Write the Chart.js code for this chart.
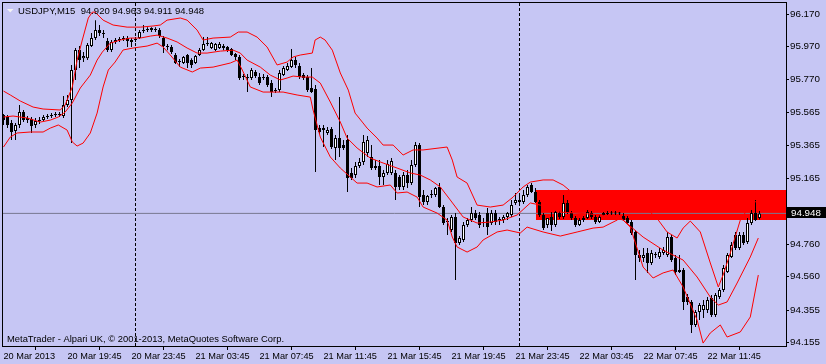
<!DOCTYPE html>
<html>
<head>
<meta charset="utf-8">
<title>USDJPY,M15</title>
<script src="https://cdn.jsdelivr.net/npm/chart.js@4"></script>
<style>
  html, body { margin: 0; padding: 0; background: #c6c6f4; }
  canvas { display: block; }
</style>
</head>
<body>
<canvas id="chart" width="826" height="364"></canvas>
<script>
// USDJPY M15, bars 0..189 (20 Mar 15:45 .. 22 Mar 13:00)
const open = [
  95.551, 95.539, 95.502, 95.453, 95.490, 95.569, 95.533, 95.527, 95.490, 95.514,
  95.520, 95.539, 95.545, 95.551, 95.557, 95.545, 95.612, 95.643, 95.827, 95.950,
  95.900, 95.900, 95.974, 96.023, 96.072, 96.054, 96.005, 95.950, 95.999, 96.011,
  96.017, 96.023, 96.011, 96.011, 96.023, 96.066, 96.072, 96.072, 96.078, 96.072,
  96.023, 95.974, 95.968, 95.919, 95.876, 95.870, 95.919, 95.888, 95.870, 95.919,
  95.950, 95.986, 95.962, 95.950, 95.962, 95.974, 95.968, 95.956, 95.925, 95.907,
  95.784, 95.784, 95.778, 95.815, 95.784, 95.784, 95.784, 95.747, 95.704, 95.704,
  95.796, 95.827, 95.845, 95.888, 95.851, 95.796, 95.784, 95.717, 95.710, 95.471,
  95.471, 95.441, 95.465, 95.349, 95.410, 95.367, 95.398, 95.195, 95.183, 95.238,
  95.263, 95.318, 95.294, 95.238, 95.238, 95.171, 95.196, 95.196, 95.196, 95.171,
  95.110, 95.183, 95.134, 95.245, 95.367, 95.061, 95.018, 95.061, 95.061, 95.110,
  94.987, 94.895, 94.846, 94.926, 94.766, 94.785, 94.877, 94.907, 94.950, 94.938,
  94.895, 94.950, 94.889, 94.950, 94.907, 94.907, 94.926, 94.938, 95.012, 95.030,
  95.018, 95.061, 95.122, 95.079, 95.018, 94.938, 94.877, 94.926, 94.877, 94.950,
  94.926, 95.012, 94.950, 94.920, 94.877, 94.907, 94.920, 94.950, 94.926, 94.895,
  94.938, 94.944, 94.947, 94.950, 94.947, 94.932, 94.920, 94.895, 94.834, 94.693,
  94.674, 94.705, 94.644, 94.693, 94.681, 94.705, 94.693, 94.803, 94.674, 94.601,
  94.601, 94.435, 94.405, 94.264, 94.343, 94.356, 94.356, 94.429, 94.325, 94.435,
  94.478, 94.589, 94.681, 94.815, 94.736, 94.815, 94.773, 94.889, 94.950, 94.920
];
const high = [
  95.557, 95.551, 95.520, 95.502, 95.612, 95.582, 95.545, 95.539, 95.533, 95.539,
  95.551, 95.557, 95.563, 95.569, 95.569, 95.668, 95.674, 95.858, 95.962, 95.974,
  95.937, 95.992, 96.054, 96.133, 96.103, 96.072, 96.023, 96.011, 96.023, 96.029,
  96.035, 96.035, 96.023, 96.029, 96.072, 96.103, 96.090, 96.090, 96.090, 96.084,
  96.035, 95.986, 95.980, 95.931, 95.894, 95.913, 95.925, 95.900, 95.919, 95.962,
  96.029, 96.029, 95.999, 95.992, 95.999, 95.986, 95.974, 95.962, 95.931, 95.919,
  95.802, 95.802, 95.839, 95.827, 95.809, 95.802, 95.796, 95.766, 95.717, 95.827,
  95.851, 95.870, 95.956, 95.907, 95.870, 95.809, 95.796, 95.839, 95.735, 95.490,
  95.490, 95.478, 95.478, 95.428, 95.661, 95.398, 95.428, 95.226, 95.263, 95.287,
  95.428, 95.422, 95.367, 95.275, 95.275, 95.214, 95.275, 95.287, 95.214, 95.183,
  95.202, 95.214, 95.275, 95.386, 95.379, 95.091, 95.061, 95.091, 95.110, 95.134,
  94.999, 94.920, 94.938, 94.950, 94.809, 94.895, 94.920, 94.987, 94.969, 94.956,
  94.920, 94.981, 94.969, 94.969, 94.926, 94.938, 94.956, 95.030, 95.073, 95.061,
  95.091, 95.122, 95.134, 95.104, 95.030, 94.950, 94.920, 94.956, 94.969, 94.962,
  95.061, 95.030, 94.962, 94.932, 94.920, 94.932, 94.969, 94.962, 94.938, 94.938,
  94.956, 94.962, 94.962, 94.962, 94.956, 94.950, 94.932, 94.907, 94.846, 94.723,
  94.736, 94.736, 94.723, 94.711, 94.736, 94.742, 94.834, 94.815, 94.693, 94.693,
  94.613, 94.454, 94.417, 94.356, 94.399, 94.417, 94.435, 94.448, 94.460, 94.491,
  94.632, 94.705, 94.773, 94.834, 94.834, 94.834, 94.920, 94.969, 95.030, 94.963
];
const low = [
  95.490, 95.471, 95.398, 95.398, 95.471, 95.508, 95.502, 95.441, 95.471, 95.496,
  95.514, 95.527, 95.533, 95.539, 95.539, 95.533, 95.600, 95.379, 95.766, 95.839,
  95.876, 95.888, 95.968, 96.011, 96.035, 96.023, 95.937, 95.937, 95.986, 95.999,
  96.005, 95.968, 95.968, 95.999, 96.017, 96.054, 96.060, 96.060, 96.060, 96.023,
  95.931, 95.949, 95.925, 95.864, 95.845, 95.864, 95.839, 95.839, 95.864, 95.913,
  95.943, 95.974, 95.956, 95.943, 95.956, 95.949, 95.937, 95.913, 95.888, 95.766,
  95.766, 95.692, 95.766, 95.778, 95.735, 95.766, 95.723, 95.661, 95.686, 95.692,
  95.790, 95.821, 95.839, 95.839, 95.772, 95.766, 95.692, 95.686, 95.202, 95.435,
  95.355, 95.428, 95.343, 95.275, 95.294, 95.337, 95.079, 95.153, 95.165, 95.226,
  95.245, 95.294, 95.214, 95.214, 95.122, 95.122, 95.183, 95.183, 95.030, 95.091,
  95.091, 95.104, 95.122, 95.232, 94.987, 94.999, 94.999, 95.042, 95.048, 94.981,
  94.877, 94.815, 94.834, 94.540, 94.754, 94.773, 94.864, 94.895, 94.907, 94.858,
  94.864, 94.815, 94.877, 94.877, 94.877, 94.889, 94.907, 94.926, 94.999, 95.005,
  95.005, 95.048, 95.073, 95.012, 94.926, 94.846, 94.858, 94.840, 94.864, 94.913,
  94.913, 94.944, 94.907, 94.864, 94.871, 94.895, 94.913, 94.913, 94.883, 94.889,
  94.932, 94.938, 94.938, 94.938, 94.938, 94.901, 94.883, 94.815, 94.540, 94.650,
  94.650, 94.583, 94.632, 94.674, 94.668, 94.693, 94.681, 94.650, 94.570, 94.583,
  94.356, 94.387, 94.215, 94.251, 94.294, 94.307, 94.337, 94.313, 94.313, 94.423,
  94.466, 94.583, 94.674, 94.723, 94.723, 94.754, 94.760, 94.877, 94.901, 94.911
];
const close = [
  95.520, 95.490, 95.447, 95.490, 95.569, 95.520, 95.520, 95.484, 95.514, 95.520,
  95.539, 95.545, 95.551, 95.557, 95.551, 95.612, 95.643, 95.827, 95.950, 95.888,
  95.913, 95.980, 96.023, 96.072, 96.054, 96.048, 95.950, 95.999, 96.011, 96.017,
  96.023, 96.005, 95.999, 96.017, 96.060, 96.072, 96.078, 96.084, 96.072, 96.035,
  95.974, 95.968, 95.937, 95.870, 95.882, 95.907, 95.870, 95.858, 95.913, 95.950,
  95.986, 95.992, 95.992, 95.986, 95.986, 95.962, 95.950, 95.919, 95.907, 95.778,
  95.790, 95.778, 95.827, 95.790, 95.747, 95.778, 95.735, 95.692, 95.698, 95.809,
  95.839, 95.851, 95.888, 95.858, 95.784, 95.778, 95.704, 95.692, 95.459, 95.447,
  95.459, 95.459, 95.355, 95.410, 95.349, 95.349, 95.165, 95.165, 95.238, 95.263,
  95.386, 95.398, 95.226, 95.226, 95.171, 95.196, 95.251, 95.269, 95.110, 95.110,
  95.183, 95.134, 95.245, 95.367, 95.048, 95.018, 95.055, 95.067, 95.104, 94.987,
  94.889, 94.895, 94.926, 94.766, 94.797, 94.877, 94.907, 94.950, 94.920, 94.877,
  94.889, 94.864, 94.950, 94.895, 94.913, 94.926, 94.950, 94.999, 95.030, 95.018,
  95.061, 95.110, 95.079, 95.018, 94.938, 94.858, 94.920, 94.877, 94.956, 94.926,
  95.012, 94.956, 94.920, 94.877, 94.907, 94.920, 94.956, 94.926, 94.895, 94.926,
  94.950, 94.950, 94.950, 94.947, 94.950, 94.907, 94.889, 94.828, 94.693, 94.674,
  94.693, 94.644, 94.705, 94.699, 94.711, 94.723, 94.803, 94.662, 94.589, 94.589,
  94.405, 94.405, 94.264, 94.343, 94.386, 94.386, 94.417, 94.325, 94.448, 94.478,
  94.613, 94.693, 94.754, 94.736, 94.815, 94.766, 94.889, 94.950, 94.907, 94.948
];

// Bollinger bands: [bar, price]
const upperBand = [
  [0, 95.698], [1.7, 95.674], [4.2, 95.637], [7.4, 95.600], [9.9, 95.588], [14.2, 95.582],
  [15.4, 95.612], [17.2, 95.723], [18.4, 95.888], [19.7, 96.011], [21.2, 96.146], [22.2, 96.182],
  [22.9, 96.182], [24.9, 96.133], [27.4, 96.103], [30.9, 96.090], [34.2, 96.090], [37.4, 96.097],
  [39.2, 96.103], [40.9, 96.133], [44.2, 96.146], [45.9, 96.133], [48.4, 96.072], [49.9, 96.011],
  [52.4, 96.023], [56.7, 96.029], [58.7, 96.060], [60.9, 96.060], [63.4, 96.029], [65.9, 95.968],
  [68.4, 95.858], [70.9, 95.876], [72.4, 95.907], [74.2, 95.919], [77.2, 95.931], [77.9, 96.011],
  [79.2, 96.029], [80.4, 96.011], [82.2, 95.949], [84.2, 95.809], [86.2, 95.704], [87.9, 95.563],
  [89.7, 95.508], [90.9, 95.471], [93.4, 95.410], [94.9, 95.367], [97.4, 95.367], [99.9, 95.306],
  [102.4, 95.337], [104.9, 95.337], [110.9, 95.355], [112.2, 95.275], [113.4, 95.171], [115.9, 95.134],
  [118.4, 94.999], [121.7, 94.987], [124.9, 94.999], [127.4, 95.048], [129.9, 95.110], [131.7, 95.140],
  [134.9, 95.153], [137.4, 95.153], [139.9, 95.122], [142.9, 95.061], [149.2, 95.030], [156.7, 94.999],
  [161.7, 94.956], [163.7, 94.907], [165.9, 94.834], [168.4, 94.797], [169.9, 94.858], [171.7, 94.901],
  [174.2, 94.834], [176.7, 94.644], [178.7, 94.497], [179.9, 94.570], [181.7, 94.705], [184.2, 94.907],
  [186.7, 94.999], [188.7, 95.030]
];
const midBand = [
  [0, 95.539], [2.4, 95.545], [5.9, 95.533], [9.2, 95.508], [11.7, 95.520], [13.7, 95.539],
  [15.4, 95.569], [17.2, 95.625], [19.2, 95.717], [21.7, 95.796], [23.4, 95.888], [24.7, 95.937],
  [26.7, 95.992], [29.2, 96.011], [31.7, 96.023], [34.2, 96.023], [36.7, 96.035], [38.4, 96.041],
  [40.9, 96.023], [43.4, 95.999], [45.9, 95.962], [48.4, 95.931], [50.9, 95.931], [54.2, 95.943],
  [57.4, 95.949], [59.2, 95.931], [60.9, 95.888], [64.2, 95.845], [66.7, 95.796], [69.2, 95.766],
  [70.9, 95.778], [72.4, 95.790], [74.9, 95.784], [77.2, 95.784], [79.2, 95.747], [81.7, 95.631],
  [84.2, 95.508], [85.9, 95.410], [88.4, 95.349], [91.7, 95.287], [94.9, 95.257], [98.4, 95.226],
  [101.7, 95.196], [104.2, 95.183], [106.7, 95.153], [109.2, 95.110], [111.7, 95.030], [114.9, 94.926],
  [118.4, 94.889], [121.7, 94.895], [124.9, 94.907], [128.4, 94.938], [131.7, 95.012], [134.2, 94.999],
  [139.2, 94.956], [146.7, 94.944], [151.7, 94.932], [154.9, 94.907], [159.9, 94.803], [164.9, 94.723],
  [169.9, 94.662], [173.4, 94.558], [176.7, 94.435], [178.7, 94.386], [180.9, 94.405], [183.4, 94.521],
  [186.7, 94.681], [188.7, 94.797]
];
const lowerBand = [
  [0, 95.355], [1.7, 95.416], [3.4, 95.441], [6.7, 95.447], [9.9, 95.447], [11.7, 95.471],
  [13.7, 95.490], [15.9, 95.459], [17.2, 95.386], [18.4, 95.361], [19.9, 95.379], [21.7, 95.441],
  [23.4, 95.563], [24.9, 95.723], [26.2, 95.827], [27.9, 95.876], [29.9, 95.950], [32.4, 95.962],
  [35.9, 95.974], [38.4, 95.992], [39.9, 95.968], [41.7, 95.919], [44.2, 95.845], [47.2, 95.815],
  [49.2, 95.839], [52.4, 95.845], [56.7, 95.870], [58.4, 95.888], [59.7, 95.827], [61.7, 95.723],
  [64.9, 95.692], [69.9, 95.692], [73.4, 95.674], [76.7, 95.661], [77.4, 95.582], [79.2, 95.416],
  [81.7, 95.294], [84.2, 95.226], [86.7, 95.171], [88.4, 95.134], [90.9, 95.134], [93.4, 95.110],
  [96.7, 95.122], [98.4, 95.073], [100.9, 95.079], [103.4, 95.048], [104.9, 94.987], [108.4, 94.950],
  [110.9, 94.907], [112.2, 94.803], [113.4, 94.742], [115.9, 94.711], [118.4, 94.742], [119.9, 94.785],
  [123.4, 94.834], [125.9, 94.846], [129.2, 94.828], [130.9, 94.864], [134.9, 94.834], [139.2, 94.809],
  [143.4, 94.834], [147.4, 94.858], [149.9, 94.864], [153.4, 94.907], [154.2, 94.926], [155.4, 94.895],
  [156.7, 94.864], [159.9, 94.619], [162.4, 94.552], [164.9, 94.583], [167.4, 94.601], [169.9, 94.497],
  [173.4, 94.294], [174.9, 94.153], [176.7, 94.215], [179.2, 94.264], [180.9, 94.190], [184.2, 94.221],
  [186.7, 94.313], [188.7, 94.570]
];

// axis labels
const xTickBars = [0, 16, 32, 48, 64, 80, 96, 112, 128, 144, 160, 176];
const xLabels = ['20 Mar 2013', '20 Mar 19:45', '20 Mar 23:45', '21 Mar 03:45', '21 Mar 07:45',
  '21 Mar 11:45', '21 Mar 15:45', '21 Mar 19:45', '21 Mar 23:45', '22 Mar 03:45',
  '22 Mar 07:45', '22 Mar 11:45'];
const yTicks = [96.170, 95.970, 95.770, 95.565, 95.365, 95.165, 94.760, 94.560, 94.355, 94.155];

// day separators, bid line, rectangle object
const sepBars = [33, 129];
const bid = 94.948;
const zoneFrom = 133.1;
const zoneTop = 95.091;
const zoneBottom = 94.905;

const symbolText = 'USDJPY,M15  94.920 94.963 94.911 94.948';
const copyText = 'MetaTrader - Alpari UK, \u00A9 2001-2013, MetaQuotes Software Corp.';

const BG = '#c6c6f4';
const FONT = '"Liberation Sans", Arial, sans-serif';

// extra drawing: background, rectangle, separators, frame, texts
const terminalPlugin = {
    id: 'terminal',
    beforeDraw(chart) {
        const c = chart.ctx;
        c.save();
        c.fillStyle = BG;
        c.fillRect(0, 0, chart.width, chart.height);
        c.restore();
    },
    beforeDatasetsDraw(chart) {
        const c = chart.ctx;
        const a = chart.chartArea;
        const xs = chart.scales.x, ys = chart.scales.y;
        c.save();
        // red rectangle
        const zx = Math.round(xs.getPixelForValue(zoneFrom));
        const zy1 = Math.round(ys.getPixelForValue(zoneTop));
        const zy2 = Math.round(ys.getPixelForValue(zoneBottom));
        c.fillStyle = '#ff0000';
        c.fillRect(zx, zy1, a.right - zx, zy2 - zy1);
        // period separators
        c.strokeStyle = '#000000';
        c.lineWidth = 1;
        c.setLineDash([3, 2]);
        sepBars.forEach(b => {
            const x = Math.floor(xs.getPixelForValue(b)) + 0.5;
            c.beginPath();
            c.moveTo(x, a.top);
            c.lineTo(x, a.bottom);
            c.stroke();
        });
        c.restore();
    },
    afterDraw(chart) {
        const c = chart.ctx;
        const a = chart.chartArea;
        const ys = chart.scales.y;
        c.save();
        // frame
        c.strokeStyle = '#000000';
        c.lineWidth = 1;
        c.strokeRect(a.left - 0.5, a.top - 0.5, a.right - a.left + 1, a.bottom - a.top + 1);
        // symbol line
        c.fillStyle = '#f4f4f4';
        c.beginPath();
        c.moveTo(7, 9);
        c.lineTo(13.5, 9);
        c.lineTo(10.25, 12.5);
        c.closePath();
        c.fill();
        c.fillStyle = '#000000';
        c.font = '9.5px ' + FONT;
        c.textBaseline = 'alphabetic';
        c.fillText(symbolText, 18, 14);
        // copyright
        c.font = '9.4px ' + FONT;
        c.fillText(copyText, 7, 342);
        // bid price box
        const by = Math.round(ys.getPixelForValue(bid));
        c.fillStyle = '#000000';
        c.fillRect(a.right + 1, by - 6, chart.width - a.right - 1, 11);
        c.fillStyle = '#ffffff';
        c.font = '9.8px ' + FONT;
        c.fillText(bid.toFixed(3), a.right + 5, by + 3);
        c.restore();
    }
};

Chart.defaults.font.family = FONT;
Chart.defaults.color = '#000000';

const bars = open.map((o, i) => i);
const pairs = arr => arr.map(p => ({ x: p[0], y: p[1] }));
const bandStyle = { type: 'line', borderColor: '#ff0000', borderWidth: 1, pointRadius: 0, tension: 0, order: 0 };

new Chart(document.getElementById('chart'), {
    type: 'bar',
    data: {
        datasets: [
            Object.assign({ label: 'Upper', data: pairs(upperBand) }, bandStyle),
            Object.assign({ label: 'Middle', data: pairs(midBand) }, bandStyle),
            Object.assign({ label: 'Lower', data: pairs(lowerBand) }, bandStyle),
            {
                type: 'bar',
                label: 'Body',
                data: bars.map(i => ({ x: i, y: [open[i], close[i]] })),
                backgroundColor: ctx => close[ctx.dataIndex] >= open[ctx.dataIndex] ? '#ffffff' : '#000000',
                borderColor: '#000000',
                borderWidth: 1,
                borderSkipped: false,
                barThickness: 3,
                minBarLength: 1,
                grouped: false,
                inflateAmount: 0,
                order: 1
            },
            {
                type: 'bar',
                label: 'Wick',
                data: bars.map(i => ({ x: i, y: [low[i], high[i]] })),
                backgroundColor: '#000000',
                borderWidth: 0,
                barThickness: 1,
                grouped: false,
                inflateAmount: 0,
                order: 2
            },
            {
                type: 'line',
                label: 'Bid',
                data: [{ x: -1, y: bid }, { x: 200, y: bid }],
                borderColor: '#787890',
                borderWidth: 1,
                pointRadius: 0,
                order: 3
            }
        ]
    },
    options: {
        responsive: false,
        animation: false,
        devicePixelRatio: 1,
        layout: { padding: { left: 3, top: 3, right: 0, bottom: 0 } },
        plugins: { legend: { display: false }, tooltip: { enabled: false } },
        scales: {
            x: {
                type: 'linear',
                min: -0.125,
                max: 195.625,
                offset: false,
                border: { display: false },
                grid: { drawOnChartArea: false, drawTicks: true, tickLength: 4, color: '#000000' },
                ticks: {
                    align: 'start',
                    autoSkip: false,
                    maxRotation: 0,
                    padding: 1,
                    font: { size: 9.2 },
                    callback: (v, i) => xLabels[i]
                },
                afterBuildTicks: s => { s.ticks = xTickBars.map(v => ({ value: v })); },
                afterFit: s => { s.height = 18; s.paddingLeft = 0; s.paddingRight = 0; }
            },
            y: {
                type: 'linear',
                position: 'right',
                min: 94.135,
                max: 96.238,
                border: { display: false },
                grid: { drawOnChartArea: false, drawTicks: true, tickLength: 3, color: '#000000' },
                ticks: {
                    padding: 1,
                    font: { size: 9.8 },
                    callback: v => Number(v).toFixed(3)
                },
                afterBuildTicks: s => { s.ticks = yTicks.map(v => ({ value: v })); },
                afterFit: s => { s.width = 40; s.paddingTop = 0; s.paddingBottom = 0; }
            }
        }
    },
    plugins: [terminalPlugin]
});
</script>
</body>
</html>
